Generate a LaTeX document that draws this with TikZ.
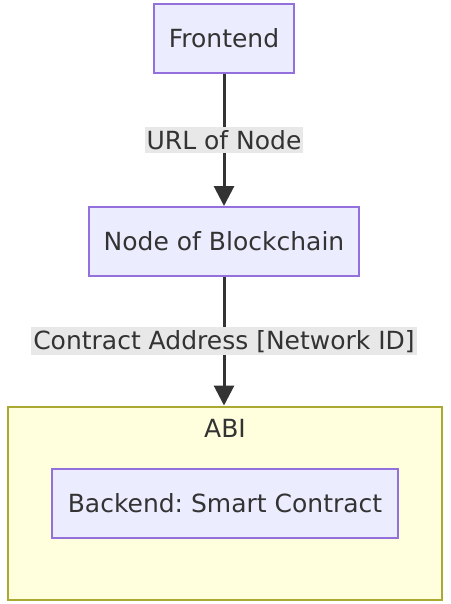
\documentclass[tikz,border=0pt]{standalone}
\usepackage{fontspec}
\setmainfont{DejaVu Sans}
\usetikzlibrary{arrows.meta, positioning}
\definecolor{nodefill}{HTML}{ECECFF}
\definecolor{nodeline}{HTML}{9370DB}
\definecolor{abifill}{HTML}{FFFFDE}
\definecolor{abiline}{HTML}{AAAA33}
\definecolor{txt}{HTML}{333333}
\definecolor{lblbg}{HTML}{E8E8E8}
\frenchspacing

\begin{document}
\begin{tikzpicture}[
  x=1pt, y=-1pt,
  font=\fontsize{25}{30}\selectfont, text=txt,
  box/.style   = {rectangle, draw=nodeline, fill=nodefill, line width=2pt,
                  minimum height=69pt, inner xsep=15pt},
  group/.style = {rectangle, draw=abiline, fill=abifill, line width=2pt,
                  minimum width=434pt, minimum height=193pt, inner sep=0pt},
  lbl/.style   = {fill=lblbg, inner xsep=2pt, inner ysep=3pt},
  arr/.style   = {-{Triangle[length=20pt, width=20pt]}, txt, line width=3pt}
]
\useasboundingbox (0,0) rectangle (450,604);

\node[box] (front) at (224,38.5) {Frontend};
\node[box, below=132pt of front] (chain) {Node of Blockchain};
\node[group] (abi) at (225,503) {};
\node[below=14pt of abi.north, inner sep=0pt] (abilbl) {ABI};
\node[box, minimum width=346pt] (back) at (225,503) {Backend: Smart Contract};

\draw[arr] (front) -- node[lbl] {URL of Node} (chain);
\draw[arr] (chain.south) -- node[lbl] {Contract Address [Network ID]} (chain.south |- abi.north);
\end{tikzpicture}
\end{document}
